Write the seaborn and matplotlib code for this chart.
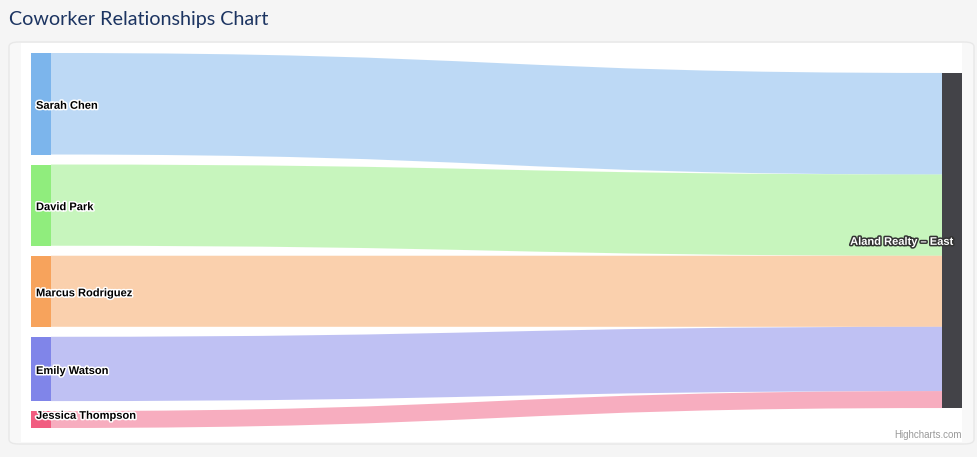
import matplotlib
matplotlib.use("Agg")
import matplotlib.pyplot as plt
import matplotlib.patheffects as pe
from matplotlib.path import Path
from matplotlib.patches import PathPatch, FancyBboxPatch, Rectangle
import seaborn as sns

# ---------------------------
# Data
# ---------------------------
title = "Coworker Relationships Chart"
sources = ["Sarah Chen", "David Park", "Marcus Rodriguez", "Emily Watson", "Jessica Thompson"]
weights = [30, 24, 21, 19, 5]
target = "Aland Realty \u2013 East"
source_colors = ["#7cb5ec", "#90ed7d", "#f7a35c", "#8085e9", "#f15c80"]
target_color = "#434348"

# ---------------------------
# Figure / theme
# ---------------------------
sns.set_theme(style="white")
plt.rcParams["font.family"] = ["Liberation Sans", "DejaVu Sans"]

W, H = 978, 457
fig = plt.figure(figsize=(W / 100, H / 100), dpi=100)
fig.patch.set_facecolor("#f5f5f5")


def px(x0, y0, x1, y1):
    """pixel box (top-left origin) -> figure fraction rect"""
    return [x0 / W, 1 - y1 / H, (x1 - x0) / W, (y1 - y0) / H]


# card and white chart area (behind the axes)
card = FancyBboxPatch((9 / W, 1 - 444 / H), (974 - 9) / W, (444 - 42) / H,
                      boxstyle="round,pad=0,rounding_size=0.01",
                      transform=fig.transFigure, facecolor="#f8f8f8",
                      edgecolor="#e8e8e8", linewidth=1, zorder=-3)
fig.patches.append(card)
fig.patches.append(Rectangle((21 / W, 1 - 442 / H), (962 - 21) / W, (442 - 43) / H,
                             transform=fig.transFigure, facecolor="white",
                             edgecolor="none", zorder=-2))

fig.text(9 / W, 1 - 20 / H, title, fontsize=14.2, color="#1c3461",
         family=["Lato", "DejaVu Sans"], va="center", ha="left")
fig.text(962 / W, 1 - 435 / H, "Highcharts.com", fontsize=7, color="#999999",
         ha="right", va="center")

# ---------------------------
# Sankey
# ---------------------------
ax = fig.add_axes(px(31, 53, 962, 428))
ax.set_axis_off()
ax.patch.set_alpha(0)

node_w = 20 / 931
node_pad = 2.95
total = sum(weights)
span = total + node_pad * (len(weights) - 1)
ax.set_xlim(0, 1)
ax.set_ylim(span, 0)

x0, x1 = node_w, 1 - node_w
xm = (x0 + x1) / 2
src_y = 0.0
tgt_y = (span - total) / 2
tgt_start = tgt_y

halo_dark = [pe.withStroke(linewidth=2.2, foreground="white")]
for name, w, c in zip(sources, weights, source_colors):
    # link
    verts = [(x0, src_y), (xm, src_y), (xm, tgt_y), (x1, tgt_y),
             (x1, tgt_y + w), (xm, tgt_y + w), (xm, src_y + w), (x0, src_y + w),
             (x0, src_y)]
    codes = [Path.MOVETO, Path.CURVE4, Path.CURVE4, Path.CURVE4,
             Path.LINETO, Path.CURVE4, Path.CURVE4, Path.CURVE4, Path.CLOSEPOLY]
    ax.add_patch(PathPatch(Path(verts, codes), facecolor=c, alpha=0.5,
                           edgecolor="none", zorder=1))
    # node
    ax.bar(0, w, bottom=src_y, width=node_w, align="edge", color=c,
           edgecolor="none", zorder=2)
    # label, kept inside the plot area like highcharts does
    label_y = min(src_y + w / 2 + 0.6, span - 3.6)
    ax.text(node_w * 0.25, label_y, name, fontsize=8, fontweight="bold",
            color="black", ha="left", va="center", zorder=3,
            path_effects=halo_dark)
    src_y += w + node_pad
    tgt_y += w

ax.bar(1 - node_w, total, bottom=tgt_start, width=node_w, align="edge",
       color=target_color, edgecolor="none", zorder=2)
ax.text(1 - node_w * 0.4, tgt_start + total / 2 + 0.4, target, fontsize=8,
        fontweight="bold", color="white", ha="right", va="center", zorder=3,
        path_effects=[pe.withStroke(linewidth=2.2, foreground="#333333")])

fig.savefig("out.png", dpi=100, facecolor=fig.get_facecolor())
